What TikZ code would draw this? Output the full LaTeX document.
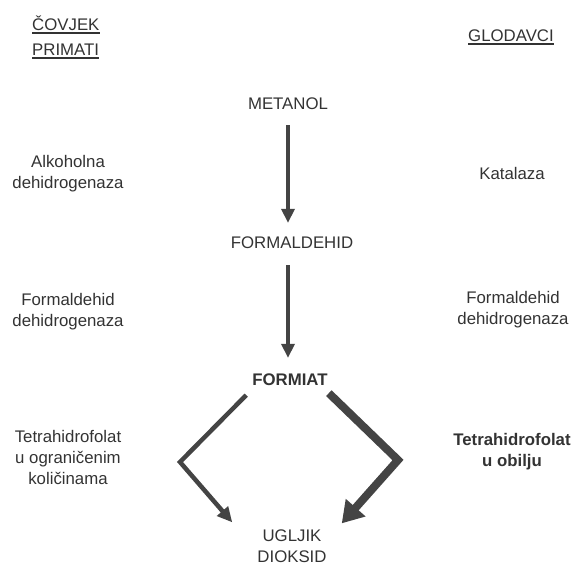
\documentclass[tikz,border=0pt]{standalone}
\usepackage{fontspec}
\setmainfont{Liberation Sans}
\usepackage{tikz}
\usetikzlibrary{positioning,calc,arrows.meta}

\definecolor{inkgray}{HTML}{333333}
\definecolor{arrowgray}{HTML}{444444}

\tikzset{
  lbl/.style={inner sep=0pt, text=inkgray, font=\fontsize{16.8}{21}\selectfont, align=center},
  boldlbl/.style={lbl, font=\fontsize{16.8}{21}\selectfont\bfseries},
  uline/.style={draw=inkgray, line width=1.5pt},
  vArrow/.style={draw=arrowgray, line width=4pt, -{Triangle[length=14pt,width=13pt]}},
  thinArrow/.style={draw=arrowgray, line width=4.5pt, line join=miter, -{Triangle[length=15pt,width=14pt]}},
  thickArrow/.style={draw=arrowgray, line width=8pt, line join=miter, -{Triangle[length=21pt,width=25pt]}}
}

\begin{document}
\begin{tikzpicture}[x=1pt,y=-1pt]
    \useasboundingbox (0,0) rectangle (575,568);

    % Headings
    \node[lbl, anchor=base west] (covjek) at (32,30) {ČOVJEK};
    \node[lbl, anchor=base west] (primati) at (32,55) {PRIMATI};
    \node[lbl, anchor=base west] (glodavci) at (468,41) {GLODAVCI};
    \draw[uline] ([yshift=-3pt]covjek.base west) -- ([yshift=-3pt]covjek.base east);
    \draw[uline] ([yshift=-3pt]primati.base west) -- ([yshift=-3pt]primati.base east);
    \draw[uline] ([yshift=-3pt]glodavci.base west) -- ([yshift=-3pt]glodavci.base east);

    % Main chain
    \node[lbl] (metanol) at (288,104) {METANOL};
    \node[lbl] (formaldehid) at (292,243) {FORMALDEHID};
    \node[boldlbl] (formiat) at (290,380) {FORMIAT};
    \node[lbl] (ugljik) at (292,546) {UGLJIK\\DIOKSID};

    % Enzymes, left side
    \node[lbl] (alkDH) at (68,174) {Alkoholna\\dehidrogenaza};
    \node[lbl] (fdhLeft) at (68,312) {Formaldehid\\dehidrogenaza};
    \node[lbl] (thfLeft) at (68,457) {Tetrahidrofolat\\u ograničenim\\količinama};

    % Enzymes, right side
    \node[lbl] (katalaza) at (512,173) {Katalaza};
    \node[lbl] (fdhRight) at (513,310) {Formaldehid\\dehidrogenaza};
    \node[boldlbl] (thfRight) at (512,452) {Tetrahidrofolat\\u obilju};

    % Arrows
    \draw[vArrow, shorten <=15pt, shorten >=14pt] (metanol.south) -- (metanol.south |- formaldehid.north);
    \draw[vArrow, shorten <=16pt, shorten >=16pt] (formaldehid.south -| metanol.south) -- (formiat.north -| metanol.south);

    \coordinate (bendL) at (180,462);
    \coordinate (bendR) at (398,460);
    \draw[thinArrow] ([shift={(-6,9)}]formiat.south west) -- (bendL) -- ([shift={(-25,-7)}]ugljik.north west);
    \draw[thickArrow] ([shift={(1,7)}]formiat.south east) -- (bendR) -- ([shift={(15,-6)}]ugljik.north east);
\end{tikzpicture}
\end{document}
